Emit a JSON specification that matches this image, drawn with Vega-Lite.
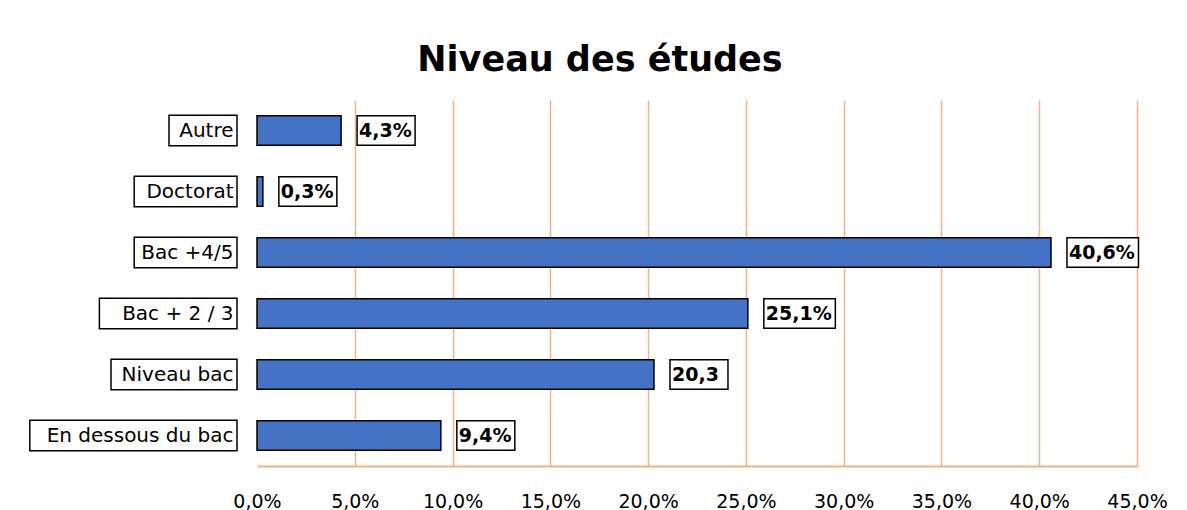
{
  "$schema": "https://vega.github.io/schema/vega-lite/v6.json",
  "width": 880,
  "height": 366,
  "autosize": {"type": "none"},
  "padding": {"left": 257, "top": 100, "right": 50, "bottom": 44},
  "background": "white",
  "config": {"view": {"stroke": null}, "font": "DejaVu Sans"},
  "title": {
    "text": "Niveau des études",
    "fontSize": 35,
    "fontWeight": "bold",
    "font": "DejaVu Sans",
    "color": "black",
    "anchor": "middle",
    "dx": -97,
    "offset": 22
  },
  "data": {
    "values": [
      {"cat": "Autre", "value": 4.3, "label": "4,3%"},
      {"cat": "Doctorat", "value": 0.3, "label": "0,3%"},
      {"cat": "Bac +4/5", "value": 40.6, "label": "40,6%"},
      {"cat": "Bac + 2 / 3", "value": 25.1, "label": "25,1%"},
      {"cat": "Niveau bac", "value": 20.3, "label": "20,3"},
      {"cat": "En dessous du bac", "value": 9.4, "label": "9,4%"}
    ]
  },
  "encoding": {
    "y": {
      "field": "cat",
      "type": "nominal",
      "sort": null,
      "scale": {"paddingInner": 0, "paddingOuter": 0},
      "axis": {
        "title": null,
        "ticks": false,
        "domain": false,
        "labelFontSize": 20,
        "labelFont": "DejaVu Sans",
        "labelColor": "black",
        "labelPadding": 24,
        "labelLimit": 0,
        "zindex": 2
      }
    }
  },
  "layer": [
    {
      "mark": {
        "type": "bar",
        "fill": "#4472C4",
        "stroke": "black",
        "strokeWidth": 1.5,
        "height": {"band": 0.48}
      },
      "encoding": {
        "x": {
          "field": "value",
          "type": "quantitative",
          "scale": {"domain": [0, 45], "nice": false},
          "axis": {
            "title": null,
            "values": [0, 5, 10, 15, 20, 25, 30, 35, 40, 45],
            "labelExpr": "replace(format(datum.value, '.1f'), '.', ',') + '%'",
            "grid": true,
            "gridColor": "#F4B183",
            "gridWidth": 1.5,
            "gridOpacity": {"condition": {"test": "datum.value === 0", "value": 0}, "value": 1},
            "domainColor": "#F4B183",
            "domainWidth": 2,
            "ticks": false,
            "labelFontSize": 19,
            "labelFont": "DejaVu Sans",
            "labelColor": "black",
            "labelPadding": 26,
            "labelFlush": false,
            "labelOverlap": false,
            "zindex": 0
          }
        }
      }
    },
    {
      "mark": {
        "type": "bar",
        "fill": "white",
        "stroke": "black",
        "strokeWidth": 1.5,
        "height": {"band": 0.5},
        "xOffset": {"expr": "-30 - length(datum.cat) * 11.6"},
        "x2Offset": -20
      },
      "encoding": {
        "x": {"datum": 0},
        "x2": {"datum": 0}
      }
    },
    {
      "mark": {
        "type": "bar",
        "fill": "white",
        "stroke": "black",
        "strokeWidth": 1.5,
        "height": {"band": 0.48},
        "xOffset": 16,
        "x2Offset": {"expr": "20 + length(datum.label) * 13.5"}
      },
      "encoding": {
        "x": {"field": "value", "type": "quantitative"},
        "x2": {"field": "value"}
      }
    },
    {
      "mark": {
        "type": "text",
        "align": "left",
        "baseline": "middle",
        "dx": 18,
        "fontSize": 19,
        "fontWeight": "bold",
        "font": "DejaVu Sans",
        "color": "black"
      },
      "encoding": {
        "x": {"field": "value", "type": "quantitative"},
        "text": {"field": "label"}
      }
    }
  ]
}
